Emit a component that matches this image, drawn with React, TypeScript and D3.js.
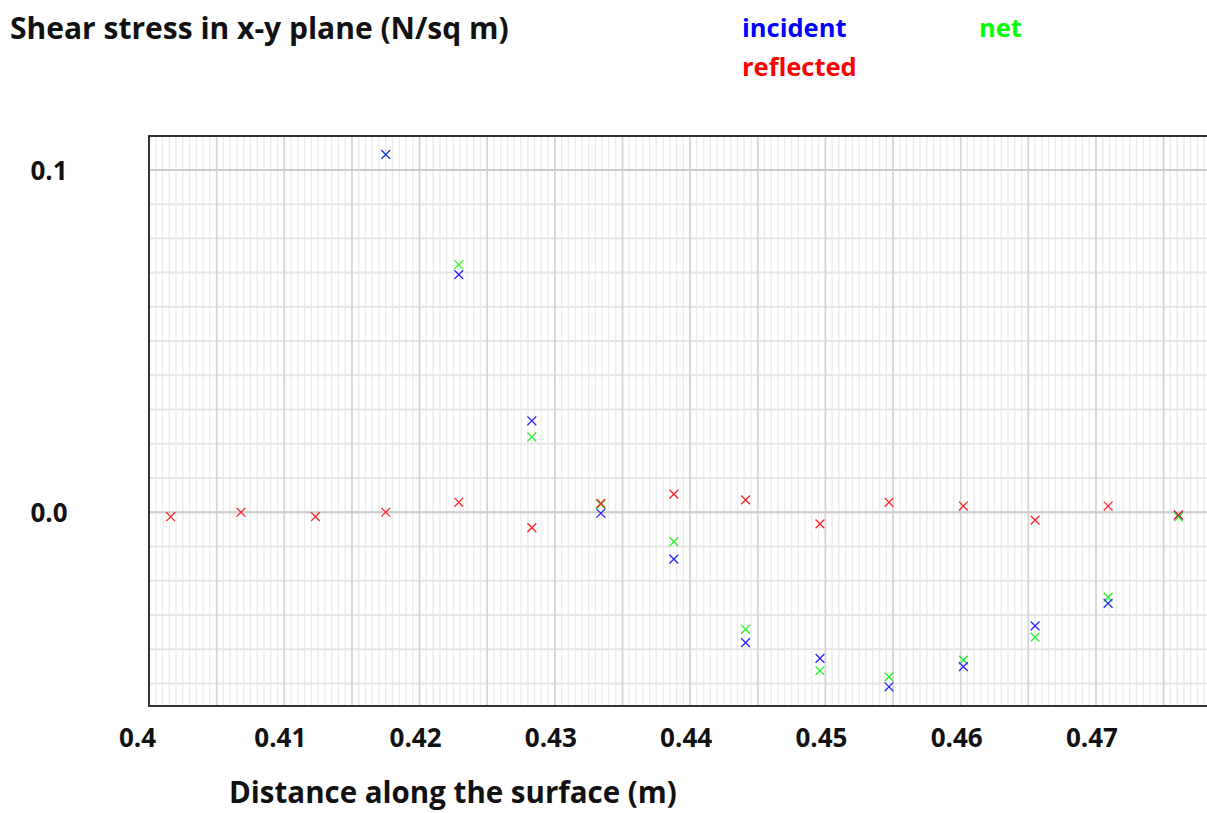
import React from 'react';
import * as d3 from 'd3';

// distance along the surface (m)
const positions = [0.4016, 0.4068, 0.4123, 0.4175, 0.4229, 0.4283, 0.4334, 0.4388, 0.4441, 0.4496, 0.4547, 0.4602, 0.4655, 0.4709, 0.4761];

// shear stress (N/sq m); incident / net not shown at the first three points
const incident = [null, null, null, 0.1045, 0.0694, 0.0267, -0.0003, -0.0137, -0.0381, -0.0427, -0.051, -0.0451, -0.0332, -0.0266, -0.0008];
const reflected = [-0.0013, 0.0, -0.0013, 0.0, 0.0029, -0.0045, 0.0026, 0.0053, 0.0036, -0.0034, 0.0029, 0.0018, -0.0023, 0.0018, -0.0008];
const net = [null, null, null, 0.1045, 0.0723, 0.022, 0.0023, -0.0086, -0.0342, -0.0463, -0.0481, -0.0432, -0.0365, -0.0248, -0.0014];

const xTicks = [0.4, 0.41, 0.42, 0.43, 0.44, 0.45, 0.46, 0.47];
const yTicks = [0.0, 0.1];

const W = 1207;
const H = 813;
const plot = { left: 149, top: 136, right: 1215, bottom: 706 };
const FONT = '"Open Sans", "Noto Sans", sans-serif';

const x = d3.scaleLinear().domain([0.4, 0.4788]).range([plot.left, plot.right]);
const y = d3.scaleLinear().domain([-0.0566, 0.1099]).range([plot.bottom, plot.top]);

const Cross = ({ cx, cy, color }: { cx: number; cy: number; color: string }) => {
  const s = 4.4;
  return (
    <path
      d={`M${cx - s},${cy - s}L${cx + s},${cy + s}M${cx - s},${cy + s}L${cx + s},${cy - s}`}
      stroke={color}
      strokeWidth={1.25}
      fill="none"
    />
  );
};

const App = () => {
  const minorX = d3.range(0, 158).map(i => 0.4 + i * 0.0005);
  const majorX = d3.range(0, 16).map(i => 0.4 + i * 0.005);
  const gridY = d3.range(-5, 11).map(i => i * 0.01);

  const series = [
    { name: 'net', values: net, color: '#22ee22' },
    { name: 'incident', values: incident, color: '#2222ff' },
    { name: 'reflected', values: reflected, color: '#ff2020' },
  ];

  return (
    <svg width={W} height={H} style={{ position: 'absolute', left: 0, top: 0, background: '#fff' }}>
      <defs>
        <clipPath id="plotclip">
          <rect x={plot.left} y={plot.top} width={plot.right - plot.left} height={plot.bottom - plot.top} />
        </clipPath>
      </defs>

      <g clipPath="url(#plotclip)">
        {minorX.map((v, i) => (
          <line key={'mx' + i} x1={x(v)} x2={x(v)} y1={plot.top} y2={plot.bottom} stroke="#ebebeb" strokeWidth={1.3} />
        ))}
        {gridY.map((v, i) => (
          <line key={'gy' + i} x1={plot.left} x2={plot.right} y1={y(v)} y2={y(v)} stroke="#e6e6e6" strokeWidth={2} />
        ))}
        {majorX.map((v, i) => (
          <line key={'Mx' + i} x1={x(v)} x2={x(v)} y1={plot.top} y2={plot.bottom} stroke="#d2d2d2" strokeWidth={1.6} />
        ))}
        {yTicks.map((v, i) => (
          <line key={'My' + i} x1={plot.left} x2={plot.right} y1={y(v)} y2={y(v)} stroke="#cccccc" strokeWidth={2} />
        ))}

        {series.map(s => (
          <g key={s.name}>
            {s.values.map((v, i) =>
              v === null ? null : <Cross key={i} cx={x(positions[i])} cy={y(v)} color={s.color} />
            )}
          </g>
        ))}
      </g>

      {/* frame */}
      <path
        d={`M${plot.right},${plot.top}H${plot.left}V${plot.bottom}H${plot.right}`}
        fill="none"
        stroke="#333"
        strokeWidth={2}
      />

      {/* y tick labels */}
      {yTicks.map(v => (
        <text key={v} x={49} y={y(v)} textAnchor="middle" dominantBaseline="central" fontFamily={FONT} fontWeight="bold" fontSize={26} fill="#111">
          {v.toFixed(1)}
        </text>
      ))}

      {/* x tick labels */}
      {xTicks.map(v => (
        <text key={v} x={x(v) - 30} y={737} dominantBaseline="central" fontFamily={FONT} fontWeight="bold" fontSize={26} fill="#111">
          {String(v)}
        </text>
      ))}

      <text x={10} y={27} dominantBaseline="central" fontFamily={FONT} fontWeight="bold" fontSize={30} fill="#111">
        Shear stress in x-y plane (N/sq m)
      </text>
      <text x={229} y={791} dominantBaseline="central" fontFamily={FONT} fontWeight="bold" fontSize={29.5} fill="#111">
        Distance along the surface (m)
      </text>

      {/* legend */}
      <text x={742} y={27} dominantBaseline="central" fontFamily={FONT} fontWeight="bold" fontSize={25.5} fill="#0000ff">incident</text>
      <text x={979} y={27} dominantBaseline="central" fontFamily={FONT} fontWeight="bold" fontSize={25.5} fill="#00ff00">net</text>
      <text x={742} y={66} dominantBaseline="central" fontFamily={FONT} fontWeight="bold" fontSize={25.5} fill="#ff0000">reflected</text>
    </svg>
  );
};

export default App;
